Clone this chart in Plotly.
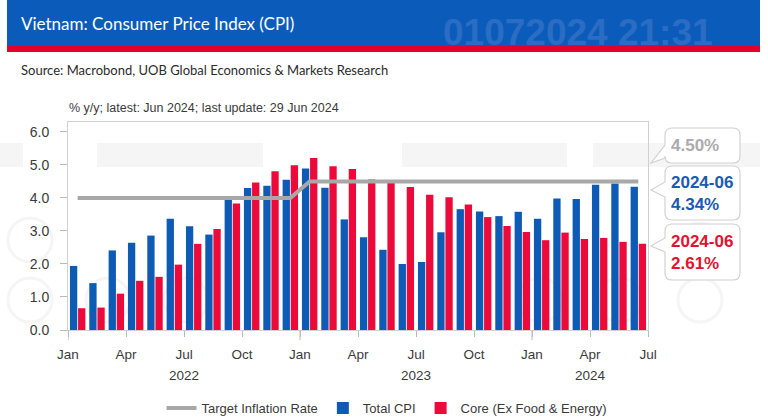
import plotly.graph_objects as go

# ---------------- data ----------------
months = [f"{y}-{m:02d}" for y in (2022, 2023, 2024) for m in range(1, 13)][:30]
total_cpi = [1.94, 1.42, 2.41, 2.64, 2.86, 3.37, 3.14, 2.89, 3.94, 4.30, 4.37, 4.55,
             4.89, 4.31, 3.35, 2.81, 2.43, 2.00, 2.06, 2.96, 3.66, 3.59, 3.45, 3.58,
             3.37, 3.98, 3.97, 4.40, 4.44, 4.34]
core_cpi = [0.66, 0.68, 1.10, 1.49, 1.61, 1.98, 2.61, 3.06, 3.83, 4.47, 4.81, 4.99,
            5.21, 4.96, 4.88, 4.56, 4.54, 4.33, 4.10, 4.02, 3.80, 3.42, 3.15, 2.97,
            2.72, 2.95, 2.76, 2.79, 2.67, 2.61]
target = [4.0] * 12 + [4.5] * 18
month_abbr = ["Jan", "Feb", "Mar", "Apr", "May", "Jun", "Jul", "Aug", "Sep", "Oct", "Nov", "Dec"]
y_ticks = [0, 1, 2, 3, 4, 5, 6]

BLUE = "#0E5BB5"
RED = "#EC0A3A"
GRAY = "#A8A8A8"
TXT = "#3A3A3A"

# month index positions (centre of each month)
xpos = [i + 0.5 for i in range(len(months))]
tickvals = list(range(0, len(months) + 1, 3))
ticktext = [month_abbr[v % 12] for v in tickvals]

W, H = 768, 419
L, R, T, B = 68, 120, 122, 89
PW, PH = W - L - R, H - T - B


def px(x):
    return (x - L) / PW


def py(y):
    return (H - B - y) / PH


fig = go.Figure()
fig.add_trace(go.Scatter(x=xpos, y=target, mode="lines", name="Target Inflation Rate",
                         line=dict(color=GRAY, width=4)))
fig.add_trace(go.Bar(x=xpos, y=total_cpi, name="Total CPI", marker=dict(color=BLUE, line=dict(width=0))))
fig.add_trace(go.Bar(x=xpos, y=core_cpi, name="Core (Ex Food & Energy)", marker=dict(color=RED, line=dict(width=0))))

shapes = []
# header band
shapes.append(dict(type="rect", xref="paper", yref="paper", x0=px(7), x1=px(760), y0=py(0), y1=py(46),
                   fillcolor="#0B5CBA", line=dict(width=0), layer="below"))
shapes.append(dict(type="rect", xref="paper", yref="paper", x0=px(7), x1=px(760), y0=py(46), y1=py(52),
                   fillcolor="#E4022D", line=dict(width=0), layer="below"))
# faint watermark strips
for a, b in [(0, 23), (97, 263), (402, 567), (593, 760)]:
    shapes.append(dict(type="rect", xref="paper", yref="paper", x0=px(a), x1=px(b), y0=py(143), y1=py(167),
                       fillcolor="#F5F5F5", line=dict(width=0), layer="below"))
# faint watermark rings
for cx, cy, r in [(30, 300, 22), (108, 300, 22), (186, 300, 22), (540, 300, 22), (620, 300, 22), (700, 300, 22),
                  (700, 245, 22), (700, 190, 22), (30, 240, 22)]:
    shapes.append(dict(type="circle", xref="paper", yref="paper", x0=px(cx - r), x1=px(cx + r),
                       y0=py(cy + r), y1=py(cy - r), line=dict(color="#F5F5F5", width=3), layer="below"))
# longer ticks at year starts
for v in range(0, len(months) + 1, 12):
    shapes.append(dict(type="line", xref="x", yref="paper", x0=v, x1=v, y0=0, y1=-10 / PH,
                       line=dict(color="#BBBBBB", width=1)))


def callout(x0, y0, x1, y1, ty0, ty1, tx, ty, r=7):
    pts = [("M", x0 + r, y0), ("L", x1 - r, y0), ("Q", x1, y0, x1, y0 + r), ("L", x1, y1 - r),
           ("Q", x1, y1, x1 - r, y1), ("L", x0 + r, y1), ("Q", x0, y1, x0, y1 - r), ("L", x0, ty1),
           ("L", tx, ty), ("L", x0, ty0), ("L", x0, y0 + r), ("Q", x0, y0, x0 + r, y0)]
    s = ""
    for p in pts:
        cmd = p[0]
        coords = p[1:]
        parts = []
        for i in range(0, len(coords), 2):
            parts.append(f"{px(coords[i]):.5f},{py(coords[i + 1]):.5f}")
        s += cmd + " " + " ".join(parts) + " "
    return s + "Z"


boxes = [
    (128, 163, 145, 158, 651, 163, f"{target[-1]:.2f}%", "#ABABAB"),
    (166, 220, 182, 197, 651, 190, f"{months[-1]}<br>{total_cpi[-1]:.2f}%", "#1A5BB0"),
    (224, 280, 238, 252, 651, 246, f"{months[-1]}<br>{core_cpi[-1]:.2f}%", "#E3122F"),
]
annotations = []
for y0, y1, ty0, ty1, tx, ty, text, col in boxes:
    shapes.append(dict(type="path", xref="paper", yref="paper", path=callout(665, y0, 740, y1, ty0, ty1, tx, ty),
                       fillcolor="white", line=dict(color="#D2D2D2", width=1.2), layer="above"))
    annotations.append(dict(xref="paper", yref="paper", x=px(669), y=py((y0 + y1) / 2), xanchor="left",
                            yanchor="middle", text=f"<b>{text}</b>", showarrow=False, align="left",
                            font=dict(family="Liberation Sans, Arial", size=17, color=col)))

# header texts
annotations.append(dict(xref="paper", yref="paper", x=px(578), y=py(32), text="<b>01072024 21:31</b>",
                        showarrow=False, xanchor="center", yanchor="middle",
                        font=dict(family="Liberation Sans, Arial", size=37, color="#2A6DC3")))
annotations.append(dict(xref="paper", yref="paper", x=px(19), y=py(24), text="Vietnam: Consumer Price Index (CPI)",
                        showarrow=False, xanchor="left", yanchor="middle",
                        font=dict(family="Lato, Noto Sans", size=17, color="white")))
annotations.append(dict(xref="paper", yref="paper", x=px(19), y=py(70),
                        text="Source: Macrobond, UOB Global Economics & Markets Research",
                        showarrow=False, xanchor="left", yanchor="middle",
                        font=dict(family="Lato, Noto Sans", size=13, color="#2B2B2B")))
annotations.append(dict(xref="paper", yref="paper", x=px(67), y=py(108),
                        text="% y/y; latest: Jun 2024; last update: 29 Jun 2024",
                        showarrow=False, xanchor="left", yanchor="middle",
                        font=dict(family="Liberation Sans, Arial", size=12.5, color=TXT)))
# year labels
year_pos = {"2022": 6, "2023": 18, "2024": 27}
for yr, v in year_pos.items():
    annotations.append(dict(xref="x", yref="paper", x=v, y=py(375), text=yr, showarrow=False,
                            xanchor="center", yanchor="middle",
                            font=dict(family="Liberation Sans, Arial", size=13.5, color=TXT)))

fig.update_layout(
    width=W, height=H, autosize=False,
    margin=dict(l=L, r=R, t=T, b=B, pad=0, autoexpand=False),
    paper_bgcolor="white", plot_bgcolor="white",
    barmode="group", bargap=0.16, bargroupgap=0.1,
    showlegend=True,
    legend=dict(orientation="h", x=px(387), xanchor="center", y=py(408), yanchor="middle",
                font=dict(family="Liberation Sans, Arial", size=13, color=TXT),
                itemwidth=30, tracegroupgap=0, bgcolor="rgba(0,0,0,0)"),
    shapes=shapes, annotations=annotations,
    xaxis=dict(range=[0, len(months)], tickvals=tickvals, ticktext=ticktext, ticks="outside", ticklen=6,
               tickcolor="#BBBBBB", showgrid=False, zeroline=False, showline=True, linecolor="#D0D0D0",
               mirror=True, ticklabelstandoff=6,
               tickfont=dict(family="Liberation Sans, Arial", size=13.5, color=TXT)),
    yaxis=dict(range=[0, 6.3], tickvals=y_ticks, ticktext=[f"{v:.1f}" for v in y_ticks], ticks="outside",
               ticklen=7, tickcolor="#BBBBBB", showgrid=False, zeroline=False, showline=True,
               linecolor="#D0D0D0", mirror=True, ticklabelstandoff=8,
               tickfont=dict(family="Liberation Sans, Arial", size=14, color=TXT)),
)

fig.write_html("out.html")
